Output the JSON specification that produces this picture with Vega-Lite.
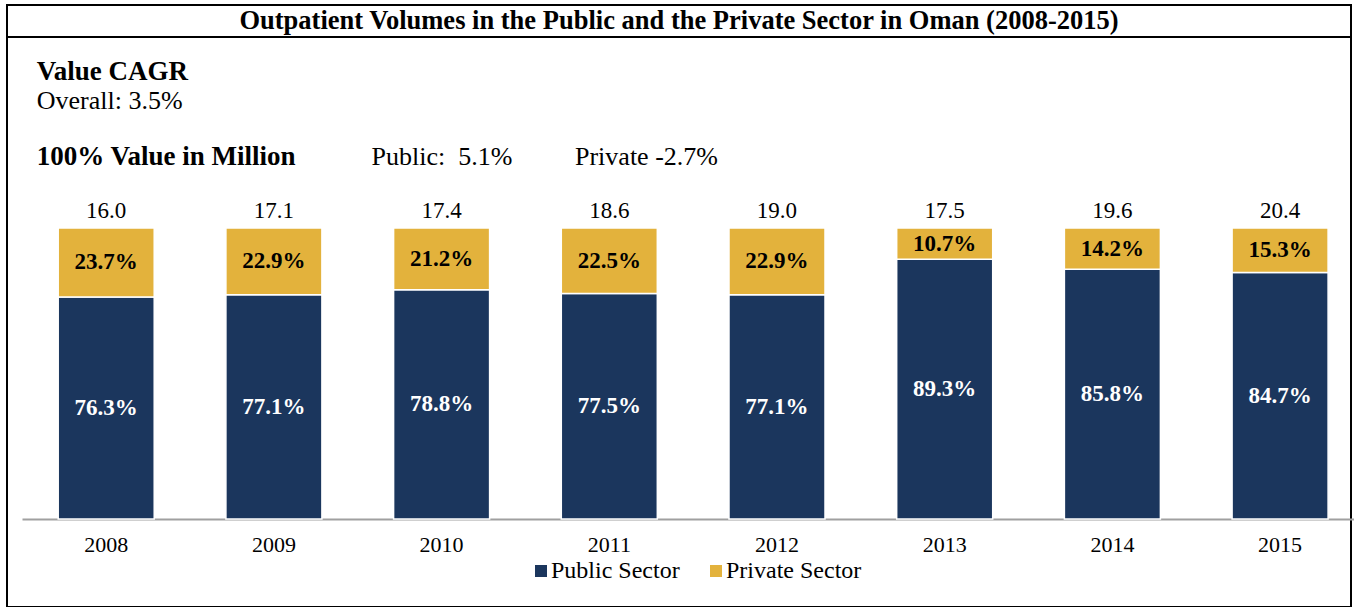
{
  "$schema": "https://vega.github.io/schema/vega-lite/v6.json",
  "width": 1344,
  "height": 602,
  "autosize": {"type": "none"},
  "padding": {"left": 7, "top": 5, "right": 3, "bottom": 0},
  "background": "white",
  "config": {
    "font": "Liberation Serif",
    "view": {"stroke": "black", "strokeWidth": 2}
  },
  "title": {
    "text": "Outpatient Volumes in the Public and the Private Sector in Oman (2008-2015)",
    "anchor": "middle",
    "frame": "group",
    "orient": "top",
    "offset": -27,
    "dy": 23.5,
    "baseline": "alphabetic",
    "font": "Liberation Serif",
    "fontSize": 26.5,
    "fontWeight": "bold",
    "color": "black"
  },
  "datasets": {
    "shares": [
      {"year": "2008", "sector": "Public Sector", "share": 0.763},
      {"year": "2008", "sector": "Private Sector", "share": 0.237},
      {"year": "2009", "sector": "Public Sector", "share": 0.771},
      {"year": "2009", "sector": "Private Sector", "share": 0.229},
      {"year": "2010", "sector": "Public Sector", "share": 0.788},
      {"year": "2010", "sector": "Private Sector", "share": 0.212},
      {"year": "2011", "sector": "Public Sector", "share": 0.775},
      {"year": "2011", "sector": "Private Sector", "share": 0.225},
      {"year": "2012", "sector": "Public Sector", "share": 0.771},
      {"year": "2012", "sector": "Private Sector", "share": 0.229},
      {"year": "2013", "sector": "Public Sector", "share": 0.893},
      {"year": "2013", "sector": "Private Sector", "share": 0.107},
      {"year": "2014", "sector": "Public Sector", "share": 0.858},
      {"year": "2014", "sector": "Private Sector", "share": 0.142},
      {"year": "2015", "sector": "Public Sector", "share": 0.847},
      {"year": "2015", "sector": "Private Sector", "share": 0.153}
    ],
    "totals": [
      {"year": "2008", "total": 16.0},
      {"year": "2009", "total": 17.1},
      {"year": "2010", "total": 17.4},
      {"year": "2011", "total": 18.6},
      {"year": "2012", "total": 19.0},
      {"year": "2013", "total": 17.5},
      {"year": "2014", "total": 19.6},
      {"year": "2015", "total": 20.4}
    ]
  },
  "layer": [
    {
      "data": {"name": "shares"},
      "mark": {"type": "bar", "stroke": "white", "strokeWidth": 1.5},
      "encoding": {
        "x": {
          "field": "year",
          "type": "ordinal",
          "scale": {"range": [15, 1357.3], "paddingInner": 0.4275, "paddingOuter": 0.2159},
          "axis": {
            "orient": "bottom",
            "offset": -88,
            "title": null,
            "domainColor": "#A0A0A0",
            "domainWidth": 2,
            "ticks": false,
            "labelAngle": 0,
            "labelFont": "Liberation Serif",
            "labelFontSize": 22,
            "labelColor": "black",
            "labelPadding": 32,
            "labelBaseline": "alphabetic"
          }
        },
        "y": {
          "field": "share",
          "type": "quantitative",
          "stack": "zero",
          "scale": {"domain": [-0.30241, 1.76632], "nice": false, "zero": false},
          "axis": null
        },
        "color": {
          "field": "sector",
          "type": "nominal",
          "scale": {"domain": ["Public Sector", "Private Sector"], "range": ["#1B365D", "#E3B23C"]},
          "legend": {
            "orient": "none",
            "legendX": 522,
            "legendY": 554,
            "direction": "horizontal",
            "title": null,
            "symbolType": "square",
            "symbolSize": 144,
            "symbolOpacity": 1,
            "symbolStrokeWidth": 0,
            "labelFont": "Liberation Serif",
            "labelFontSize": 24,
            "labelColor": "black",
            "labelOffset": -2,
            "columnPadding": 24,
            "padding": 0
          }
        },
        "order": {"field": "sector", "sort": "descending"}
      }
    },
    {
      "data": {"name": "shares"},
      "transform": [
        {"stack": "share", "groupby": ["year"], "sort": [{"field": "sector", "order": "descending"}], "as": ["y0", "y1"]},
        {"fold": ["y0", "y1"], "as": ["k", "v"]},
        {"aggregate": [{"op": "mean", "field": "v", "as": "mid"}], "groupby": ["year", "sector", "share"]}
      ],
      "mark": {"type": "text", "font": "Liberation Serif", "fontSize": 23, "fontWeight": "bold", "baseline": "middle", "align": "center"},
      "encoding": {
        "x": {"field": "year", "type": "ordinal"},
        "y": {"field": "mid", "type": "quantitative"},
        "text": {"field": "share", "type": "quantitative", "format": ".1%"},
        "color": {"condition": {"test": "datum.sector === 'Public Sector'", "value": "white"}, "value": "black"}
      }
    },
    {
      "data": {"name": "totals"},
      "mark": {"type": "text", "font": "Liberation Serif", "fontSize": 23, "baseline": "alphabetic", "align": "center", "dy": -10, "color": "black"},
      "encoding": {
        "x": {"field": "year", "type": "ordinal"},
        "y": {"datum": 1, "type": "quantitative"},
        "text": {"field": "total", "type": "quantitative", "format": ".1f"}
      }
    },
    {
      "data": {"values": [{"line": "title rule"}]},
      "mark": {"type": "rule", "color": "black", "strokeWidth": 2},
      "encoding": {"y": {"datum": 1.65636, "type": "quantitative"}}
    },
    {
      "data": {"values": [{"label": "Value CAGR"}]},
      "mark": {"type": "text", "font": "Liberation Serif", "fontSize": 27, "fontWeight": "bold", "align": "left", "baseline": "alphabetic", "dx": -69.5, "color": "black"},
      "encoding": {
        "x": {"datum": "2008", "type": "ordinal"},
        "y": {"datum": 1.5086, "type": "quantitative"},
        "text": {"field": "label"}
      }
    },
    {
      "data": {"values": [{"label": "Overall: 3.5%"}]},
      "mark": {"type": "text", "font": "Liberation Serif", "fontSize": 26, "align": "left", "baseline": "alphabetic", "dx": -69.5, "color": "black"},
      "encoding": {
        "x": {"datum": "2008", "type": "ordinal"},
        "y": {"datum": 1.4089, "type": "quantitative"},
        "text": {"field": "label"}
      }
    },
    {
      "data": {"values": [{"label": "100% Value in Million"}]},
      "mark": {"type": "text", "font": "Liberation Serif", "fontSize": 27, "fontWeight": "bold", "align": "left", "baseline": "alphabetic", "dx": -69.5, "color": "black"},
      "encoding": {
        "x": {"datum": "2008", "type": "ordinal"},
        "y": {"datum": 1.2165, "type": "quantitative"},
        "text": {"field": "label"}
      }
    },
    {
      "data": {"values": [{"label": "Public:\u00a0 5.1%"}]},
      "mark": {"type": "text", "font": "Liberation Serif", "fontSize": 26, "align": "left", "baseline": "alphabetic", "dx": -70, "color": "black"},
      "encoding": {
        "x": {"datum": "2010", "type": "ordinal"},
        "y": {"datum": 1.2165, "type": "quantitative"},
        "text": {"field": "label"}
      }
    },
    {
      "data": {"values": [{"label": "Private -2.7%"}]},
      "mark": {"type": "text", "font": "Liberation Serif", "fontSize": 26, "align": "left", "baseline": "alphabetic", "dx": -34.3, "color": "black"},
      "encoding": {
        "x": {"datum": "2011", "type": "ordinal"},
        "y": {"datum": 1.2165, "type": "quantitative"},
        "text": {"field": "label"}
      }
    }
  ]
}
